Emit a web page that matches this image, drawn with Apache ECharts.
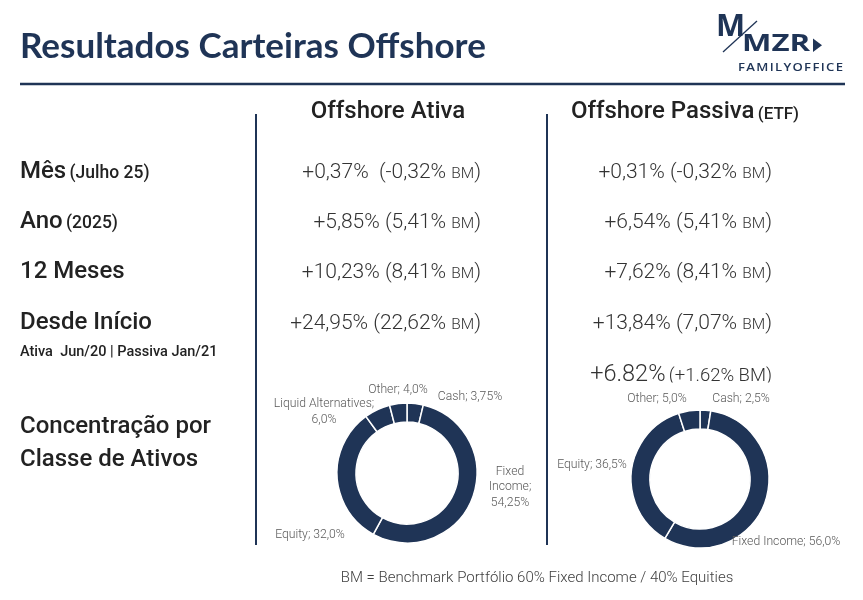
<!DOCTYPE html>
<html><head><meta charset="utf-8">
<script src="https://cdn.jsdelivr.net/npm/echarts@6/dist/echarts.min.js"></script>
<style>html,body{margin:0;padding:0;background:#fff}#c{width:863px;height:600px}</style>
</head><body><div id="c"></div>
<script>
// ---------- data ----------
const pageTitle = 'Resultados Carteiras Offshore';
const columnHeaders = ['Offshore Ativa', 'Offshore Passiva'];
const columnHeaderNotes = ['', '(ETF)'];
const rowLabels = ['Mês', 'Ano', '12 Meses', 'Desde Início'];
const rowSubLabels = ['(Julho 25)', '(2025)', '', ''];
const sinceNote = 'Ativa  Jun/20 | Passiva Jan/21';
const ativaReturns = ['+0,37%  ', '+5,85% ', '+10,23% ', '+24,95% '];
const ativaBM = ['(-0,32%', '(5,41%', '(8,41%', '(22,62%'];
const passivaReturns = ['+0,31% ', '+6,54% ', '+7,62% ', '+13,84% '];
const passivaBM = ['(-0,32%', '(5,41%', '(8,41%', '(7,07%'];
const extraReturn = '+6.82%';
const extraBM = '(+1.62% BM)';
const allocationLabel = ['Concentração por', 'Classe de Ativos'];
const ativaCategories = ['Cash', 'Fixed Income', 'Equity', 'Liquid Alternatives', 'Other'];
const ativaWeights = [3.75, 54.25, 32.0, 6.0, 4.0];
const passivaCategories = ['Cash', 'Fixed Income', 'Equity', 'Other'];
const passivaWeights = [2.5, 56.0, 36.5, 5.0];
const footnote = 'BM = Benchmark Portfólio 60% Fixed Income / 40% Equities';

// ---------- styles / layout ----------
const NAVY = '#1f3456';
const TXT = '#222222';
const VAL = '#333333';
const rowY = [172, 222, 272, 323];
// label placement for donut labels (center of text block) and line-wrapping
const ativaLabelPos = [
  {x: 470, y: 397, wrap: '%N; %V'},
  {x: 510, y: 487, wrap: 'Fixed\nIncome;\n%V'},
  {x: 310, y: 535, wrap: '%N; %V'},
  {x: 324, y: 412, wrap: '%N;\n%V'},
  {x: 398, y: 390, wrap: '%N; %V'}
];
const passivaLabelPos = [
  {x: 741, y: 399, wrap: '%N; %V'},
  {x: 786, y: 542, wrap: '%N; %V'},
  {x: 592, y: 465, wrap: '%N; %V'},
  {x: 657, y: 399, wrap: '%N; %V'}
];

function fmtPct(v) {
  const s = Math.round(v * 10) === v * 10 ? v.toFixed(1) : v.toFixed(2);
  return s.replace('.', ',') + '%';
}
function pieData(cats, vals) {
  return cats.map((c, i) => ({name: c, value: vals[i]}));
}
function donut(cats, vals, center, radius, pos) {
  return {
    type: 'pie', silent: true, animation: false,
    center: center, radius: radius, startAngle: 90, clockwise: true,
    avoidLabelOverlap: false,
    data: pieData(cats, vals),
    itemStyle: {color: NAVY, borderColor: '#ffffff', borderWidth: 1.5},
    label: {
      show: true, position: 'outside',
      color: '#595959', fontFamily: 'Roboto', fontWeight: 300, fontSize: 12.2, lineHeight: 15.5,
      align: 'center',
      formatter: p => pos[p.dataIndex].wrap.replace('%N', p.name).replace('%V', fmtPct(p.value))
    },
    labelLine: {show: false},
    labelLayout: p => ({x: pos[p.dataIndex].x, y: pos[p.dataIndex].y, align: 'center', verticalAlign: 'middle'})
  };
}

const graphic = [];
function txt(x, y, text, style, extra) {
  graphic.push(Object.assign({type: 'text', x: x, y: y, silent: true,
    style: Object.assign({text: text, fill: TXT, verticalAlign: 'middle'}, style)}, extra || {}));
}

// title + rule
txt(20, 47, pageTitle, {font: 'bold 35px Lato', fill: NAVY});
graphic.push({type: 'line', silent: true, shape: {x1: 20, y1: 84, x2: 845, y2: 84}, style: {stroke: NAVY, lineWidth: 2.5}});

// logo
txt(716, 27, 'M', {font: 'bold 30px "Open Sans"', fill: NAVY}, {scaleX: 1.03});
graphic.push({type: 'line', silent: true, shape: {x1: 723, y1: 52, x2: 757, y2: 21}, style: {stroke: NAVY, lineWidth: 1.3}});
txt(742, 44, 'MZR', {font: 'bold 24px "Open Sans"', fill: NAVY}, {scaleX: 1.3});
graphic.push({type: 'polygon', silent: true, shape: {points: [[813, 38.5], [813, 52], [822, 45.2]]}, style: {fill: NAVY}});
txt(738, 68, 'F\u200AA\u200AM\u200AI\u200AL\u200AY\u200AO\u200AF\u200AF\u200AI\u200AC\u200AE', {font: '600 11.5px "Open Sans"', fill: NAVY}, {scaleX: 1.14});

// vertical separators
graphic.push({type: 'line', silent: true, shape: {x1: 256, y1: 114, x2: 256, y2: 545}, style: {stroke: NAVY, lineWidth: 2}});
graphic.push({type: 'line', silent: true, shape: {x1: 547, y1: 114, x2: 547, y2: 545}, style: {stroke: NAVY, lineWidth: 2}});

// column headers
const headerX = [388, 685];
columnHeaders.forEach((h, i) => {
  const t = columnHeaderNotes[i] ? '{h|' + h + '} {n|' + columnHeaderNotes[i] + '}' : '{h|' + h + '}';
  txt(headerX[i], 112, t, {align: 'center', rich: {
    h: {font: '500 24px Roboto', fill: TXT, verticalAlign: 'bottom'},
    n: {font: '500 17px Roboto', fill: TXT, verticalAlign: 'bottom', padding: [0, 0, 1, 0]}
  }});
});

// row labels
rowLabels.forEach((l, i) => {
  const t = rowSubLabels[i] ? '{a|' + l + '} {b|' + rowSubLabels[i] + '}' : '{a|' + l + '}';
  txt(20, rowY[i], t, {rich: {
    a: {font: '500 24px Roboto', fill: TXT, verticalAlign: 'bottom'},
    b: {font: '500 17.5px Roboto', fill: TXT, verticalAlign: 'bottom', padding: [0, 0, 1, 0]}
  }});
});
txt(20, 352, sinceNote, {font: '500 14.5px Roboto', fill: TXT});

// values
const valRich = {
  v: {font: '300 21px Roboto', fill: VAL, verticalAlign: 'bottom'},
  bm: {font: '300 15.5px Roboto', fill: VAL, verticalAlign: 'bottom', padding: [0, 0, 1, 0]}
};
ativaReturns.forEach((r, i) => {
  txt(481, rowY[i] + 1, '{v|' + r + ativaBM[i] + ' }{bm|BM}{v|)}', {align: 'right', rich: valRich});
});
passivaReturns.forEach((r, i) => {
  txt(772, rowY[i] + 1, '{v|' + r + passivaBM[i] + ' }{bm|BM}{v|)}', {align: 'right', rich: valRich});
});
// partially hidden extra line
txt(772, 375, '{v|' + extraReturn + '} {w|' + extraBM + '}', {align: 'right', rich: {
  v: {font: '300 23.5px Roboto', fill: VAL, verticalAlign: 'bottom'},
  w: {font: '300 18.5px Roboto', fill: VAL, verticalAlign: 'bottom', padding: [0, 0, 1, 0]}
}});
graphic.push({type: 'rect', silent: true, z: 200, shape: {x: 585, y: 382.5, width: 200, height: 9}, style: {fill: '#ffffff'}});

// allocation label
txt(20, 427, allocationLabel[0], {font: '500 24px Roboto'});
txt(20, 460, allocationLabel[1], {font: '500 24px Roboto'});

// footnote
txt(537, 578, footnote, {font: '300 15px Roboto', fill: '#404040', align: 'center'});

const chart = echarts.init(document.getElementById('c'), null, {renderer: 'canvas'});
chart.setOption({
  animation: false,
  backgroundColor: '#ffffff',
  graphic: {elements: graphic},
  series: [
    donut(ativaCategories, ativaWeights, [407, 473], [51, 70], ativaLabelPos),
    donut(passivaCategories, passivaWeights, [700, 479], [50, 69], passivaLabelPos)
  ]
});
</script></body></html>
